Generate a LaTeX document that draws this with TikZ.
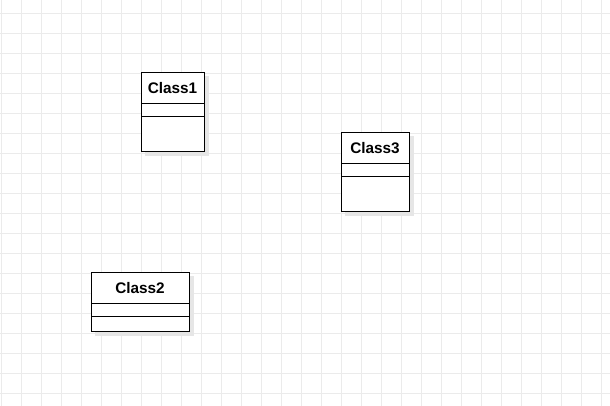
\documentclass[tikz,border=0pt]{standalone}
\usepackage{fontspec}
\setmainfont{Liberation Sans}
\definecolor{gridc}{HTML}{EBEBEB}
\definecolor{shadowc}{HTML}{E6E6E6}
\begin{document}
\begin{tikzpicture}[x=0.75pt,y=-0.75pt,
  classbox/.style={draw=black,line width=0.9pt,fill=white,inner sep=0pt,anchor=north west},
  title/.style={font=\bfseries\fontsize{11.5}{13}\selectfont,inner sep=0pt},
  sep/.style={line width=0.8pt}]
\useasboundingbox (0,0) rectangle (610,406);
\fill[white] (0,0) rectangle (610,406);
\foreach \x in {1.5,21.5,...,601.5} \draw[gridc,line width=0.75pt] (\x,0) -- (\x,406);
\foreach \y in {13.5,33.5,...,406} \draw[gridc,line width=0.75pt] (0,\y) -- (610,\y);
% Class1
\fill[shadowc] (145,76) rectangle (209,156);
\node[classbox,minimum width=63*0.75pt,minimum height=79*0.75pt] (c1) at (141,72) {};
\node[title] (c1t) at (172.5,88) {Class1};
\draw[sep] (c1.west |- 0,103.5) -- (c1.east |- 0,103.5);
\draw[sep] (c1.west |- 0,116.5) -- (c1.east |- 0,116.5);
% Class3
\fill[shadowc] (345,136) rectangle (414,216);
\node[classbox,minimum width=68*0.75pt,minimum height=79*0.75pt] (c3) at (341,132) {};
\node[title] (c3t) at (375,148) {Class3};
\draw[sep] (c3.west |- 0,163.5) -- (c3.east |- 0,163.5);
\draw[sep] (c3.west |- 0,176.5) -- (c3.east |- 0,176.5);
% Class2
\fill[shadowc] (95,276) rectangle (194,336);
\node[classbox,minimum width=98*0.75pt,minimum height=59*0.75pt] (c2) at (91,272) {};
\node[title] (c2t) at (140,288) {Class2};
\draw[sep] (c2.west |- 0,303.5) -- (c2.east |- 0,303.5);
\draw[sep] (c2.west |- 0,316.5) -- (c2.east |- 0,316.5);
\end{tikzpicture}
\end{document}
